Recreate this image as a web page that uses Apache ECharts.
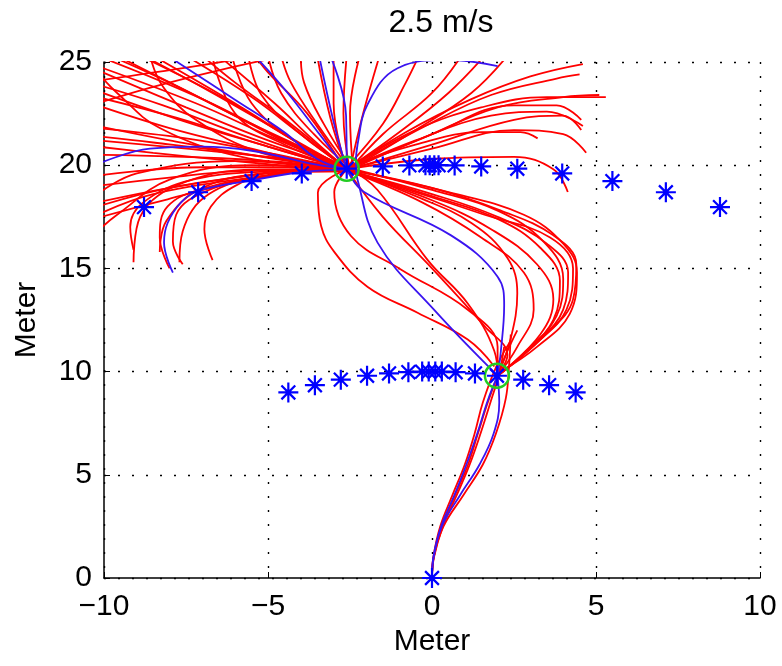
<!DOCTYPE html>
<html>
<head>
<meta charset="utf-8">
<script src="https://cdn.jsdelivr.net/npm/echarts@6/dist/echarts.min.js"></script>
<style>
  html, body { margin: 0; padding: 0; background: #fff; }
  #chart { width: 782px; height: 666px; }
</style>
</head>
<body>
<div id="chart"></div>
<script>
// tick values
const xTicks = [-10, -5, 0, 5, 10]
const yTicks = [0, 5, 10, 15, 20, 25]

// target points (stars) on the two arcs and the start point
const starsUpper = [
  [-8.78, 17.97], [-7.13, 18.69], [-5.5, 19.23], [-3.97, 19.6], [-2.6, 19.83], [-1.5, 19.94], [-0.69, 19.99],
  [-0.2, 20.0], [-0.07, 20.0], [0.07, 20.0], [0.2, 20.0],
  [0.69, 19.99], [1.5, 19.94], [2.6, 19.83], [3.97, 19.6], [5.5, 19.23], [7.13, 18.69], [8.78, 17.97]
]
const starsLower = [
  [-4.38, 8.99], [-3.57, 9.34], [-2.78, 9.61], [-1.98, 9.8], [-1.31, 9.91], [-0.72, 9.97],
  [-0.3, 10.0], [-0.1, 10.0], [0.1, 10.0], [0.3, 10.0],
  [0.72, 9.97], [1.31, 9.91], [1.98, 9.8], [2.78, 9.61], [3.57, 9.34], [4.38, 8.99]
]
const starStart = [[0, 0]]
// chosen points (green circles)
const chosen = [[1.98, 9.8], [-2.6, 19.83]]

// red trajectories: origin -> lower arc
const redLower = [
  [[0, 0], [0.05, 1], [0.3, 2.5], [0.7, 4], [1.1, 5.5], [1.4, 7], [1.7, 8.5], [2.0, 9.8], [2.3, 11], [2.6, 12]],
  [[0, 0], [0.04, 1], [0.25, 2.5], [0.62, 4], [1.0, 5.5], [1.3, 7], [1.55, 8.5], [1.95, 10.2], [2.4, 11.5]],
  [[0, 0], [0.06, 1], [0.33, 2.5], [0.75, 4], [1.15, 5.5], [1.48, 7], [1.8, 8.6], [2.05, 9.9], [2.2, 11.2]],
  [[0, 0], [0.05, 1], [0.35, 2.5], [0.95, 4], [1.55, 5.5], [1.95, 7], [2.25, 8.7], [2.35, 10.3], [2.4, 11.8]]
]
// red trajectories: lower arc -> upper arc
const redMiddle = [
  [[-2.6, 19.8], [0, 18.9], [2.1, 17.8], [3.7, 16.6], [4.4, 15.2], [4.3, 13.5], [3.4, 11.7], [2.0, 9.8]],
  [[-2.5, 19.7], [0, 18.6], [2, 17.5], [3.5, 16.2], [4.15, 14.8], [4.0, 13.0], [3.1, 11.3], [2.0, 9.8]],
  [[-2.6, 19.9], [0, 18.8], [2, 17.8], [3.4, 16.3], [4.0, 14.5], [3.8, 12.7], [2.9, 11], [2.0, 9.8]],
  [[-2.4, 19.6], [0, 18.3], [1.8, 16.9], [3.2, 15.2], [3.7, 13.5], [3.3, 11.8], [2.0, 9.8]],
  [[-2.6, 19.8], [-0.5, 18.5], [1.2, 17.2], [2.3, 15.5], [2.6, 13.8], [2.4, 11.6], [2.0, 9.8]],
  [[-2.5, 19.7], [-0.3, 18.2], [1.5, 16.5], [2.8, 14.8], [3.1, 13], [2.6, 11.2], [2.0, 9.8]],
  [[-2.6, 19.8], [0.5, 18.7], [2.8, 17.6], [4.0, 16.2], [4.42, 14.8], [4.2, 12.8], [3.2, 11.2], [2.1, 10.0]],
  [[-2.6, 19.8], [0, 18.5], [2, 17.4], [3.3, 16], [3.9, 14.4], [3.7, 12.5], [2.8, 10.9], [2.0, 9.8]],
  [[-2.5, 19.7], [-0.5, 18.7], [1.6, 17.6], [3.6, 16.5], [4.3, 15], [4.1, 13], [3.2, 11.4], [2.0, 9.8]],
  [[-2.6, 19.8], [-3.48, 18.67], [-3.38, 17.05], [-2.98, 15.8], [-1.96, 14.1], [-0.44, 12.85], [1.09, 11.55], [1.9, 10.25]],
  [[-2.6, 19.8], [-2.98, 18.7], [-2.47, 16.57], [-0.95, 14.95], [1.09, 13.0], [2.0, 11.2], [2.0, 9.8]],
  [[-2.5, 19.8], [-1.66, 18.8], [-0.13, 15.4], [1.09, 13.3], [1.9, 11], [2.0, 9.8]],
  [[-2.6, 19.8], [-1.5, 17.5], [0, 15], [1.6, 12.2], [2.3, 10.8], [2.0, 9.8]]
]
// red trajectories: upper arc fanning out
const redUpper = [
  [[-2.5, 19.9], [-5, 21.2], [-7.5, 22.8], [-10.2, 24.6]],
  [[-2.6, 19.8], [-5, 20.9], [-7.5, 22.1], [-10.2, 23.6]],
  [[-2.7, 19.7], [-5.5, 20.8], [-8, 21.8], [-10.2, 22.9]],
  [[-2.6, 19.9], [-5.5, 20.5], [-8, 21.2], [-10.2, 21.9]],
  [[-2.8, 19.8], [-6, 20.6], [-8.5, 21.1], [-10.2, 21.4]],
  [[-2.6, 19.7], [-6, 20.2], [-8.5, 20.6], [-10.2, 20.9]],
  [[-2.9, 19.9], [-6, 20.3], [-10.2, 20.5]],
  [[-2.6, 19.8], [-5, 20.6], [-7.5, 21.3], [-10.2, 21.8]],
  [[-2.6, 19.8], [-5.2, 21], [-7.8, 22.3], [-10.2, 23.3]],
  [[-2.5, 19.8], [-4.8, 21.3], [-7.2, 23], [-10.2, 24.8]],
  [[-2.6, 19.9], [-5, 20.4], [-10.2, 21.2]],
  [[-2.6, 19.8], [-5.5, 21.3], [-8.2, 22.9], [-10.2, 23.9]],
  [[-2.4, 20.0], [-5, 19.6], [-8, 18.9], [-10.2, 18.0]],
  [[-2.6, 19.9], [-5.5, 19.4], [-8.5, 18.6], [-10.2, 17.6]],
  [[-10.2, 17.45], [-8.06, 18.35], [-6.03, 19.15], [-4.2, 19.65], [-2.6, 19.8]],
  [[-10.2, 18.2], [-8, 18.9], [-6, 19.4], [-4, 19.8], [-2.6, 19.8]],
  [[-10.2, 19.0], [-8, 19.4], [-6, 19.7], [-2.6, 19.8]],
  [[-10.2, 19.5], [-7, 19.9], [-2.6, 19.9]],
  [[-10.2, 25.3], [-7, 23.2], [-4.5, 21.2], [-2.6, 19.8]],
  [[-9.6, 25.3], [-6.5, 22.8], [-4.2, 20.9], [-2.5, 19.7]],
  [[-8.9, 25.3], [-6.3, 23.2], [-4, 21], [-2.5, 19.8]],
  [[-8.5, 25.3], [-5.8, 22.8], [-3.8, 20.8], [-2.4, 19.6]],
  [[-2.5, 19.7], [-4.5, 21.5], [-6.8, 23.6], [-8.8, 25.3]],
  [[-2.6, 19.8], [-4.3, 22], [-6.0, 24], [-7.0, 25.3]],
  [[-2.4, 19.7], [-4.5, 21], [-6, 22.5], [-6.7, 25.3]],
  [[-2.5, 19.8], [-4.2, 21.2], [-5.5, 23], [-6.1, 25.3]],
  [[-2.6, 19.9], [-4, 21.5], [-5.2, 23.4], [-5.6, 25.3]],
  [[-2.7, 19.9], [-3.8, 22.5], [-5.0, 24.5], [-5.4, 25.3]],
  [[-2.3, 19.6], [-3.6, 21.5], [-4.6, 23.5], [-5.0, 25.3]],
  [[-2.5, 19.8], [-3.5, 22], [-4.3, 24], [-4.6, 25.3]],
  [[-2.4, 19.7], [-3.3, 22], [-3.9, 24], [-4.0, 25.3]],
  [[-2.6, 19.8], [-3.1, 22.3], [-3.5, 25.3]],
  [[-2.6, 19.8], [-3.0, 23], [-3.0, 25.3]],
  [[-2.5, 19.7], [-2.7, 22.5], [-2.6, 25.3]],
  [[-2.4, 19.6], [-2.5, 22.5], [-2.2, 25.3]],
  [[-9.8, 25.3], [-8, 24], [-5.5, 22], [-2.6, 19.9]],
  [[-7.5, 25.3], [-5.5, 23.3], [-4, 21.5], [-2.6, 19.8]],
  [[-6.5, 25.3], [-4.8, 23], [-3.6, 21.2], [-2.5, 19.7]],
  [[-2.5, 19.8], [-5.2, 20.6], [-7.2, 22.2], [-8.2, 23.8], [-8.6, 25.3]],
  [[-2.6, 19.8], [-5.8, 20.4], [-8.3, 21.8], [-9.6, 23.5], [-10.2, 24.5]],
  [[-4.2, 25.4], [-6.5, 24.6], [-8.5, 23.8], [-10.2, 23.0]],
  [[-5.0, 25.4], [-7.2, 24.8], [-10.2, 24.1]],
  [[-2.6, 19.8], [-5, 19.8], [-7.5, 19.2], [-8.9, 17.5], [-9.1, 15.3]],
  [[-2.6, 19.8], [-5, 19.7], [-7.3, 19.3], [-8.8, 18.2], [-9.2, 17.0], [-9.1, 15.9]],
  [[-2.5, 19.7], [-5, 19.6], [-7, 18.9], [-8.1, 17.3], [-8.3, 15.8]],
  [[-2.6, 19.8], [-5, 19.5], [-6.9, 18.9], [-8.06, 18.0], [-8.3, 16.5], [-8.0, 15.0]],
  [[-2.6, 19.8], [-5, 19.5], [-6.8, 18.8], [-7.8, 17.6], [-7.9, 16.3], [-7.6, 15.2]],
  [[-2.7, 19.9], [-5, 19.5], [-6.8, 18.6], [-7.6, 16.8], [-7.7, 15.3]],
  [[-2.5, 19.8], [-5, 19.5], [-6.0, 19.0], [-6.74, 18.0], [-6.94, 16.9], [-6.69, 15.4]],
  [[-2.6, 19.8], [-5.5, 20], [-8, 19.3], [-9.6, 17.6], [-10.2, 16.8]],
  [[-2.5, 19.8], [-6, 20.2], [-9, 19.6], [-10.2, 18.6]],
  [[-2.6, 19.8], [-0.8, 21.6], [1.2, 23.2], [3, 24.3], [4.6, 24.9]],
  [[-2.6, 19.8], [-0.2, 21.9], [1.8, 23.4], [3.8, 24.2], [4.5, 24.4]],
  [[-2.5, 19.9], [-0.5, 21.7], [1.5, 22.8], [3.5, 23.3], [5.3, 23.3]],
  [[-2.6, 19.8], [-0.3, 21.3], [2, 22.8], [4, 23.3], [5.1, 23.4]],
  [[-2.6, 19.7], [0, 21.5], [2.5, 22.9], [3.8, 22.9], [4.55, 22.2]],
  [[-2.6, 19.8], [-0.5, 21.2], [1.8, 22.4], [3.5, 22.6], [4.6, 21.9]],
  [[-2.5, 19.8], [0, 21], [2.5, 22.2], [4, 22.4], [4.55, 21.7]],
  [[-2.6, 19.8], [0, 20.8], [2.5, 21.7], [4, 21.5], [4.7, 20.6]],
  [[-2.6, 19.9], [-0.5, 21], [1.5, 21.6], [2.7, 21.6], [3.22, 21.3]],
  [[-2.6, 19.8], [0, 20.3], [2.5, 20.4], [3.7, 19.8], [4.14, 18.7]],
  [[-2.5, 19.8], [-1.5, 21.5], [0, 23.5], [0.9, 25.3]],
  [[-2.6, 19.8], [-1, 21.6], [0.5, 23.5], [1.6, 25.3]],
  [[-2.5, 19.8], [-0.5, 21.7], [1.2, 23.5], [2.3, 25.3]],
  [[-2.6, 19.9], [-1.5, 22], [-0.8, 24], [-0.4, 25.3]],
  [[-2.5, 19.8], [-2.1, 22.5], [-1.6, 25.3]]
]
// blue trajectories
const blueLines = [
  [[0, 0], [0.04, 1], [0.3, 2.5], [0.85, 4], [1.45, 5.5], [1.88, 7], [2.05, 8.5], [2.0, 9.8]],
  [[0, 0], [0.05, 1], [0.28, 2.5], [0.68, 4], [1.05, 5.5], [1.38, 7], [1.7, 8.6], [2.0, 9.8]],
  [[-2.6, 19.8], [-2.07, 18.7], [0.58, 16.6], [2.0, 14.6], [2.2, 13.2], [2.1, 11], [2.0, 9.8]],
  [[2.0, 9.8], [0.06, 13.0], [-1.66, 16.25], [-2.27, 19.3], [-2.32, 20.05], [-2.27, 21.0], [-1.96, 22.96], [-1.05, 24.7], [0.5, 25.1], [2.0, 24.8]],
  [[-10.2, 20.05], [-8.6, 20.8], [-7.04, 20.9], [-5.5, 20.7], [-3.6, 20.05], [-2.6, 19.8]],
  [[-2.6, 19.8], [-3.94, 19.67], [-5.49, 19.27], [-7.14, 18.75], [-7.65, 18.2], [-8.06, 17.2], [-8.17, 16.25], [-7.9, 14.8]],
  [[-8.06, 25.3], [-6.03, 23.2], [-4.5, 21.6], [-3.5, 20.3], [-2.6, 19.8]],
  [[-5.4, 25.3], [-4.4, 23.5], [-3.48, 21.6], [-2.6, 19.8]],
  [[-3.1, 25.3], [-2.62, 22.4], [-2.6, 19.8]],
  [[-3.44, 25.3], [-3.0, 22.1], [-2.6, 19.8]]
]

const RED = '#ff0000'
const BLUE = '#3a14f0'
// asterisk marker built from four filled bars
const STAR = 'path://M8.9,0L11.1,0L11.1,20L8.9,20ZM0,8.9L20,8.9L20,11.1L0,11.1Z' +
  'M2.3,3.9L3.9,2.3L17.7,16.1L16.1,17.7ZM16.1,2.3L17.7,3.9L3.9,17.7L2.3,16.1Z'
const FONT = 'Liberation Sans'

function lineSeries(curve, color) {
  return {
    type: 'line',
    data: curve,
    smooth: 0.4,
    symbol: 'none',
    clip: true,
    silent: true,
    lineStyle: { color: color, width: 1.8 }
  }
}

let series = []
redLower.concat(redMiddle, redUpper).forEach(c => series.push(lineSeries(c, RED)))
blueLines.forEach(c => series.push(lineSeries(c, BLUE)))
series.push({
  type: 'scatter',
  data: chosen,
  symbol: 'circle',
  symbolSize: 24,
  z: 5,
  itemStyle: { color: 'rgba(0,0,0,0)', borderColor: '#22cc22', borderWidth: 2.5, opacity: 1 }
})
series.push({
  type: 'scatter',
  data: starsUpper.concat(starsLower, starStart),
  symbol: STAR,
  symbolSize: 20,
  z: 6,
  clip: false,
  itemStyle: { color: '#0000ff', opacity: 1 }
})

const minus = v => String(v).replace('-', '\u2212')
const myChart = echarts.init(document.getElementById('chart'))
const gridLine = { show: true, lineStyle: { color: '#000', type: [2, 12], width: 1.4 } }
myChart.setOption({
  animation: false,
  title: {
    text: '2.5 m/s',
    left: 436,
    top: 2,
    textAlign: 'center',
    textStyle: { fontFamily: FONT, fontSize: 32, fontWeight: 'normal', color: '#000' }
  },
  grid: { left: 104, right: 22, top: 62, bottom: 88 },
  xAxis: {
    type: 'value',
    min: xTicks[0],
    max: xTicks[xTicks.length - 1],
    interval: 5,
    name: 'Meter',
    nameLocation: 'middle',
    nameGap: 44,
    nameTextStyle: { fontFamily: FONT, fontSize: 30, color: '#000' },
    axisLine: { onZero: false, lineStyle: { color: '#000', width: 1.5 } },
    axisTick: { inside: true, length: 6, lineStyle: { color: '#000' } },
    axisLabel: { fontFamily: FONT, fontSize: 30, color: '#000', margin: 14, formatter: minus },
    splitLine: gridLine
  },
  yAxis: {
    type: 'value',
    min: yTicks[0],
    max: yTicks[yTicks.length - 1],
    interval: 5,
    name: 'Meter',
    nameLocation: 'middle',
    nameGap: 62,
    nameRotate: 90,
    nameTextStyle: { fontFamily: FONT, fontSize: 30, color: '#000' },
    axisLine: { onZero: false, lineStyle: { color: '#000', width: 1.5 } },
    axisTick: { inside: true, length: 6, lineStyle: { color: '#000' } },
    axisLabel: { fontFamily: FONT, fontSize: 30, color: '#000', margin: 12 },
    splitLine: gridLine
  },
  series: series
})
</script>
</body>
</html>
